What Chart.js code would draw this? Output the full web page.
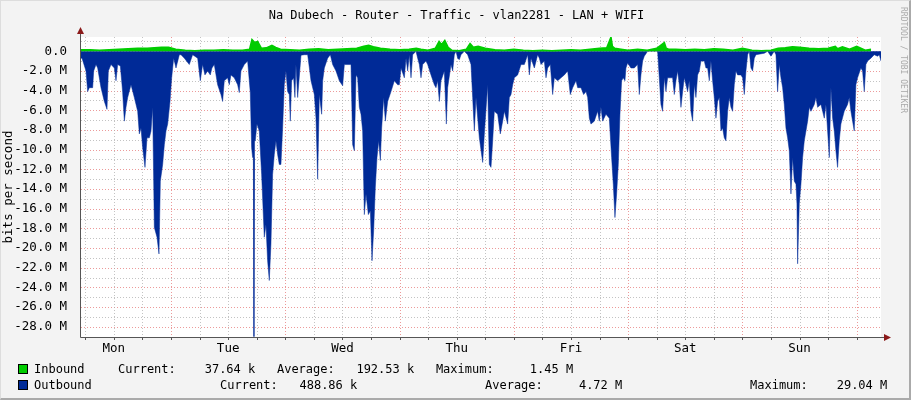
<!DOCTYPE html>
<html>
<head>
<meta charset="utf-8">
<script src="https://cdn.jsdelivr.net/npm/chart.js@4"></script>
<style>
html,body{margin:0;padding:0;background:#f3f3f3;}
#wrap{position:relative;width:911px;height:400px;box-sizing:border-box;border-right:2px solid #aaa;border-bottom:2px solid #aaa;border-top:1px solid #ddd;border-left:1px solid #ddd;overflow:hidden;}
#chart{position:absolute;left:0;top:0;}
.t{position:absolute;font-family:'DejaVu Sans Mono',monospace;font-size:12px;white-space:pre;color:#000;line-height:14px;}
.sw{position:absolute;width:8px;height:8px;border:1px solid #000;}
#brand{position:absolute;left:898px;top:6px;transform-origin:0 0;transform:rotate(90deg) translate(0,-9px);font-family:'DejaVu Sans Mono',monospace;font-size:8px;color:#aaa;white-space:pre;}
</style>
</head>
<body>
<div id="wrap">
<canvas id="chart" width="911" height="400"></canvas>
<div class="t" style="left:0;width:911px;text-align:center;top:7px">Na Dubech - Router - Traffic - vlan2281 - LAN + WIFI</div>
<div id="brand">RRDTOOL / TOBI OETIKER</div>
<div class="sw" style="left:17px;top:363px;background:#00cc00"></div>
<div class="t" style="left:33px;top:361px">Inbound</div>
<div class="t" style="left:117px;top:361px">Current:    37.64 k   Average:   192.53 k   Maximum:     1.45 M</div>
<div class="sw" style="left:17px;top:379px;background:#002a97"></div>
<div class="t" style="left:33px;top:377px">Outbound</div>
<div class="t" style="left:219px;top:377px">Current:   488.86 k</div>
<div class="t" style="left:484px;top:377px">Average:     4.72 M</div>
<div class="t" style="left:749px;top:377px">Maximum:    29.04 M</div>
</div>
<script>
// time in hours since Monday 00:00, values in Mbit/s
const dayNames=['Mon','Tue','Wed','Thu','Fri','Sat','Sun'];
const yTicks=[0,-2,-4,-6,-8,-10,-12,-14,-16,-18,-20,-22,-24,-26,-28];
const tStart=5.1, tEnd=173.1;

const outHours=[5.1,5.31,6.15,6.5,6.85,7.55,7.76,8.25,8.6,9.3,10.0,10.56,10.84,11.4,12.1,12.45,12.8,13.36,13.64,13.85,14.2,14.55,14.9,15.6,16.3,17.0,17.35,17.7,18.05,18.54,18.96,19.45,19.8,20.15,20.5,21.06,21.48,21.76,22.25,22.6,22.95,23.3,23.79,24.14,24.56,25.05,25.75,26.1,26.8,27.84,28.54,29.6,30.15,30.64,31.13,31.69,32.25,32.6,33.09,33.79,34.49,34.84,35.19,35.89,36.24,36.59,37.29,37.99,38.34,38.69,39.39,40.09,40.65,40.93,41.14,41.3,41.42,41.55,41.7,42.05,42.54,43.03,43.59,43.94,44.29,44.64,44.99,45.34,45.69,46.04,46.39,46.74,47.09,47.44,47.79,48.14,48.49,48.84,49.05,49.33,49.75,50.03,50.24,50.6,51.3,52.0,52.7,53.4,54.1,54.45,54.8,55.15,55.64,55.85,56.2,56.9,57.46,57.95,58.65,59.35,60.05,60.4,61.8,62.15,62.5,62.85,63.2,63.55,63.9,64.25,64.6,64.95,65.44,65.86,66.21,66.56,66.91,67.26,67.61,67.96,68.24,68.66,69.01,69.5,70.2,70.9,71.6,71.95,72.3,73.0,73.35,73.7,74.05,74.4,74.75,75.45,75.8,76.15,76.5,76.85,77.55,77.9,78.6,79.3,79.65,80.0,80.35,80.7,81.4,81.82,82.1,82.8,83.15,83.5,83.85,84.2,84.55,84.9,85.6,86.3,87.0,87.35,87.7,88.05,88.75,89.45,89.8,90.5,90.85,91.2,91.55,91.9,92.6,93.15,93.65,94.0,94.7,95.05,95.4,95.75,96.1,96.8,97.5,98.2,98.9,99.25,99.6,100.3,101.0,101.35,101.7,102.4,102.75,103.1,103.65,104.15,104.5,105.2,105.9,106.6,107.3,107.85,108.35,109.05,109.4,110.1,110.65,111.15,111.5,111.85,112.19,112.89,113.59,113.94,114.29,114.64,115.34,116.04,116.53,116.88,117.23,117.58,117.93,118.28,118.63,118.98,119.33,119.54,119.89,120.59,121.29,121.99,122.34,122.69,123.04,123.39,124.09,126.19,126.54,126.89,127.24,127.59,127.94,128.29,129.34,129.69,130.04,130.39,130.74,131.09,131.44,131.79,132.49,132.84,133.19,133.54,133.89,134.24,134.59,134.94,135.29,135.99,136.34,136.69,137.04,137.39,137.74,138.09,138.44,138.79,139.14,139.49,139.84,140.19,140.54,140.89,141.24,141.59,141.94,142.29,142.64,142.99,143.69,144.04,144.39,144.74,145.09,145.44,145.79,146.14,146.49,146.84,148.59,149.29,149.99,150.69,151.04,151.39,151.74,152.09,152.44,152.79,153.14,153.49,153.84,154.19,154.54,154.89,155.24,155.45,155.59,155.94,156.29,156.64,156.99,157.69,158.04,158.39,159.09,159.44,159.79,160.49,160.84,161.19,161.54,161.89,162.24,162.59,162.94,163.29,163.63,163.98,164.33,164.68,165.38,166.08,166.43,166.78,167.48,167.83,168.18,168.88,169.23,169.58,169.93,170.28,170.98,171.68,172.38,172.73,173.1];
const outbound=[-0.7,-0.7,-2.0,-4.1,-3.7,-3.7,-2.0,-1.35,-1.7,-3.7,-5.1,-5.9,-2.0,-1.35,-1.7,-3.0,-1.35,-1.5,-3.0,-4.2,-7.1,-5.7,-4.7,-3.4,-4.7,-6.1,-8.4,-7.8,-9.8,-11.8,-8.8,-8.8,-8.1,-5.7,-17.9,-18.9,-20.6,-13.2,-11.5,-9.5,-8.1,-7.4,-5.1,-2.7,-0.7,-1.7,-0.35,-0.35,-0.7,-1.35,-0.35,-0.7,-3.0,-1.35,-2.4,-2.0,-2.4,-1.7,-1.35,-3.4,-4.4,-5.1,-3.0,-2.7,-3.4,-2.4,-2.7,-3.4,-4.2,-2.0,-1.35,-1.0,-4.2,-9.8,-10.8,-10.8,-29.0,-9.1,-9.1,-7.4,-8.1,-12.5,-18.9,-17.6,-21.3,-23.3,-19.6,-12.5,-10.5,-9.1,-10.5,-11.5,-11.5,-7.8,-3.4,-2.0,-4.1,-4.4,-7.1,-3.0,-2.7,-4.7,-1.35,-4.7,-0.4,-0.35,-0.35,-3.0,-4.4,-6.8,-13.0,-4.4,-6.4,-3.0,-1.7,-0.7,-0.35,-1.35,-2.0,-3.0,-3.5,-1.35,-1.35,-9.5,-10.1,-2.4,-2.7,-5.7,-6.4,-8.1,-16.6,-14.5,-16.6,-16.2,-21.3,-18.2,-13.8,-10.8,-9.1,-11.1,-7.8,-4.7,-7.1,-5.1,-4.1,-3.0,-3.4,-3.4,-1.7,-2.7,-0.7,-2.0,-0.35,-2.7,-0.35,0,-0.7,-1.35,-2.7,-1.35,-1.0,-1.35,-2.4,-3.4,-3.7,-3.0,-5.1,-3.0,-2.0,-7.4,-3.7,-1.35,-2.0,-0.35,0,-0.7,-0.85,-0.35,0,-0.35,-1.35,-4.7,-8.1,-4.7,-8.8,-11.3,-8.4,-3.4,-11.5,-11.8,-9.1,-6.1,-6.4,-8.4,-7.1,-6.1,-7.4,-4.7,-4.4,-3.4,-2.7,-2.4,-1.35,-1.35,-0.35,-2.4,-0.7,-1.7,-0.35,-0.7,-1.35,-1.0,-2.7,-1.7,-1.35,-4.4,-2.7,-3.0,-2.7,-2.4,-2.0,-4.4,-3.7,-3.0,-3.7,-3.7,-4.4,-4.1,-4.7,-6.8,-7.4,-7.1,-6.1,-7.1,-5.7,-7.1,-6.4,-6.8,-10.8,-13.5,-16.9,-14.5,-11.5,-6.4,-3.0,-2.7,-3.0,-1.7,-1.2,-1.7,-1.7,-1.35,-4.4,-2.4,-1.0,-0.5,0,0,-2.7,-5.4,-6.1,-2.7,-4.1,-2.7,-2.7,-4.4,-3.0,-2.0,-3.4,-5.7,-4.1,-2.7,-4.1,-3.0,-6.1,-7.1,-3.4,-4.7,-2.4,-2.0,-1.0,-1.0,-1.7,-1.7,-3.0,-1.0,-3.0,-4.7,-6.8,-5.1,-4.7,-8.1,-7.8,-8.8,-9.1,-6.1,-4.7,-5.7,-6.1,-3.4,-2.0,-2.4,-2.4,-2.7,-4.4,-2.0,-0.35,0,-1.7,-2.0,-0.7,-0.35,-0.2,0,-0.5,0,-0.35,-4.1,-1.35,-2.7,-3.7,-5.4,-7.8,-8.8,-10.1,-14.5,-10.8,-13.2,-13.5,-15.5,-21.6,-15.5,-13.5,-10.8,-9.1,-7.1,-5.7,-6.1,-5.4,-4.7,-5.7,-5.4,-6.1,-6.8,-5.4,-8.1,-10.8,-3.7,-6.8,-8.1,-10.1,-11.8,-9.1,-7.4,-6.1,-5.4,-4.7,-6.1,-8.1,-3.4,-2.7,-1.7,-2.0,-4.1,-1.35,-1.0,-0.7,-0.35,-0.5,-0.35,-1.0];

const inHours=[5.1,7,9,11,13,15,17,19,20.5,22,23.5,25,27,29,31,33,35,37,39,40.5,41,41.6,42.2,43,44,45.2,46,47,49,51,53,55,57,59,61,63,64.5,65.5,66.5,68,70,72,74,75.5,76.5,78,79.5,80.3,80.8,81.5,82.2,83,84.5,86,86.8,87.5,88.5,90,92,94,96,98,100,102,104,106,108,110,112,114,115.5,116.4,116.7,117.2,118.5,120,122,124,126,127.6,128,128.5,130,132,134,136,138,140,142,144,146,148,150,151.5,153,154.5,156,158,160,162,163.5,164,165,166.5,168,169.8,171,173.1];
const inbound=[0.15,0.15,0.1,0.15,0.2,0.25,0.3,0.3,0.35,0.4,0.4,0.2,0.1,0.05,0.1,0.1,0.15,0.1,0.1,0.2,1.2,0.9,1.0,0.3,0.35,0.6,0.4,0.2,0.15,0.1,0.2,0.25,0.15,0.2,0.25,0.3,0.5,0.6,0.45,0.3,0.2,0.15,0.2,0.3,0.2,0.1,0.3,1.0,0.7,1.1,0.4,0.1,0.05,0.2,0.8,0.4,0.5,0.3,0.15,0.1,0.2,0.1,0.05,0.1,0.05,0.1,0.15,0.1,0.2,0.3,0.35,1.45,0.5,0.3,0.2,0.1,0.2,0.1,0.3,0.9,0.3,0.2,0.2,0.15,0.2,0.15,0.25,0.2,0.1,0.3,0.1,0.05,0.1,0.3,0.35,0.45,0.4,0.3,0.25,0.3,0.5,0.25,0.45,0.2,0.5,0.1,0.2];

const toPts=(xs,ys)=>xs.map((x,i)=>({x,y:ys[i]}));
const mono='DejaVu Sans Mono, monospace';

const rrdFrame={
  id:'rrdFrame',
  beforeDatasetsDraw(c){
    const {ctx,chartArea:a,scales:{x,y}}=c;
    ctx.save();
    ctx.fillStyle='#fff';
    ctx.fillRect(a.left,a.top,a.right-a.left,a.bottom-a.top);
    ctx.lineWidth=1;
    ctx.setLineDash([1,2]);
    for(let v=-29;v<=1;v++){
      const py=Math.round(y.getPixelForValue(v))+0.5;
      ctx.strokeStyle=v%2===0?'rgba(230,120,120,.75)':'rgba(170,170,170,.7)';
      ctx.beginPath();ctx.moveTo(a.left,py);ctx.lineTo(a.right,py);ctx.stroke();
    }
    for(let h=6;h<=tEnd;h+=6){
      if(h<tStart)continue;
      const px=Math.round(x.getPixelForValue(h))+0.5;
      ctx.strokeStyle=h%24===0?'rgba(230,120,120,.75)':'rgba(170,170,170,.7)';
      ctx.beginPath();ctx.moveTo(px,a.top);ctx.lineTo(px,a.bottom);ctx.stroke();
    }
    ctx.restore();
  },
  afterDatasetsDraw(c){
    const {ctx,chartArea:a,scales:{x}}=c;
    ctx.save();
    ctx.strokeStyle='#555';ctx.lineWidth=1;
    ctx.beginPath();
    ctx.moveTo(a.left-0.5,a.top-4);ctx.lineTo(a.left-0.5,a.bottom+0.5);ctx.lineTo(a.right+6,a.bottom+0.5);
    ctx.stroke();
    for(let h=6;h<=tEnd;h+=6){
      if(h<tStart)continue;
      const px=Math.round(x.getPixelForValue(h))+0.5;
      ctx.beginPath();ctx.moveTo(px,a.bottom);ctx.lineTo(px,a.bottom+3);ctx.stroke();
    }
    ctx.fillStyle='#8b1a1a';
    ctx.beginPath();ctx.moveTo(a.left-4,a.top-3);ctx.lineTo(a.left+3,a.top-3);ctx.lineTo(a.left-0.5,a.top-10);ctx.fill();
    ctx.beginPath();ctx.moveTo(a.right+3,a.bottom-3);ctx.lineTo(a.right+3,a.bottom+4);ctx.lineTo(a.right+10,a.bottom+0.5);ctx.fill();
    ctx.restore();
  }
};

new Chart(document.getElementById('chart'),{
  type:'line',
  data:{datasets:[
    {label:'Inbound',data:toPts(inHours,inbound),borderColor:'#00cc00',backgroundColor:'#00cc00',borderWidth:1.5,fill:'origin',pointRadius:0,tension:0},
    {label:'Outbound',data:toPts(outHours,outbound),borderColor:'#002a97',backgroundColor:'#002a97',borderWidth:0.5,fill:'origin',pointRadius:0,tension:0}
  ]},
  options:{
    responsive:false,animation:false,
    layout:{padding:{top:36,right:31,left:0,bottom:0}},
    plugins:{legend:{display:false},tooltip:{enabled:false}},
    scales:{
      x:{type:'linear',min:tStart,max:tEnd,
        afterBuildTicks:s=>{s.ticks=dayNames.map((d,i)=>({value:12+24*i}));},
        afterFit:s=>{s.height=64;},
        grid:{display:false,drawTicks:false},border:{display:false},
        ticks:{maxRotation:0,autoSkip:false,padding:4,color:'#000',font:{family:mono,size:12.5},callback:v=>dayNames[(v-12)/24]}},
      y:{min:-29.04,max:1.45,
        afterBuildTicks:s=>{s.ticks=yTicks.map(v=>({value:v}));},
        afterFit:s=>{s.width=80;},
        grid:{display:false},border:{display:false},
        title:{display:true,text:'bits per second',color:'#000',font:{family:mono,size:12.5},padding:{top:0,bottom:2}},
        ticks:{padding:6,color:'#000',font:{family:mono,size:12.5},callback:v=>v===0?'0.0':v.toFixed(1)+' M'}}
    }
  },
  plugins:[rrdFrame]
});
</script>
</body>
</html>
